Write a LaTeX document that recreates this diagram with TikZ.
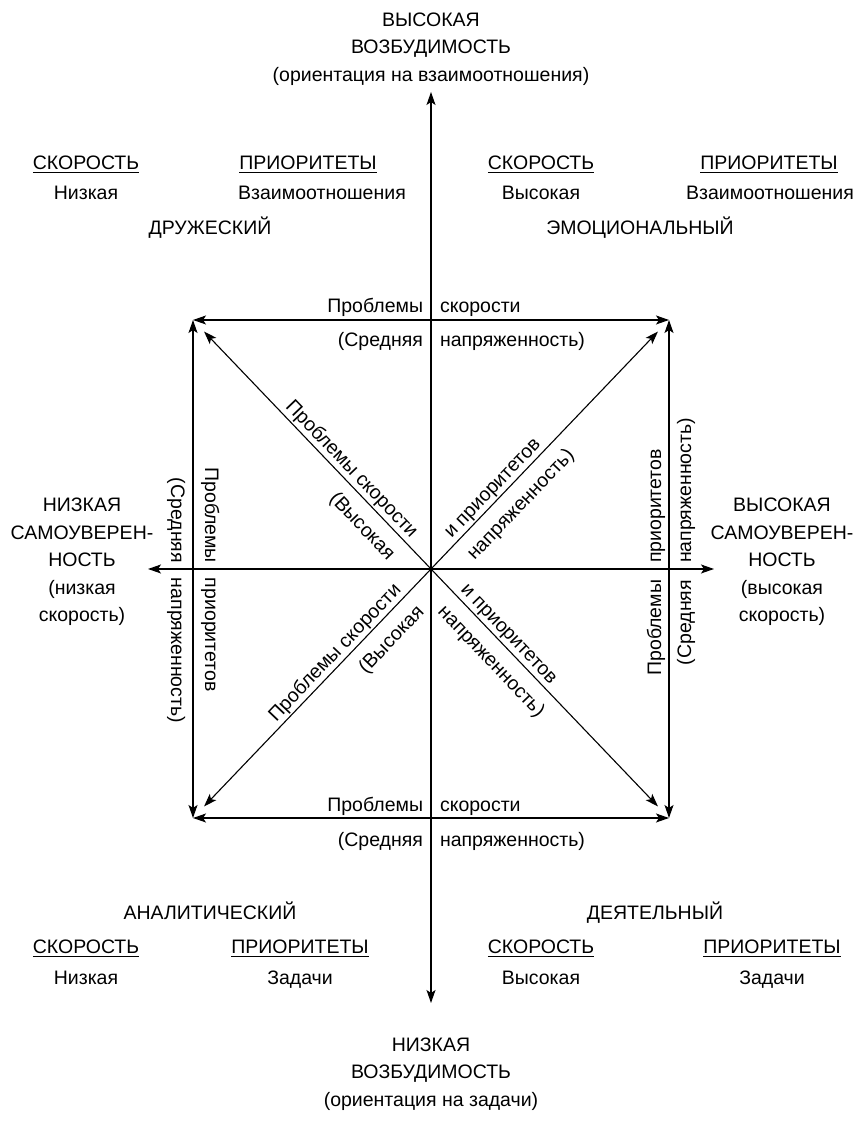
\documentclass[tikz,border=0pt]{standalone}
\usepackage{fontspec}
\setmainfont{Liberation Sans}
\usetikzlibrary{arrows.meta}
\begin{document}
\begin{tikzpicture}[x=1pt,y=1pt,
  every node/.style={font=\fontsize{19.5}{27.5}\selectfont, inner sep=0pt, outer sep=0pt},
  dbl/.style={line width=1.1pt,
    {Stealth[length=13pt,width=9pt,inset=3pt]}-{Stealth[length=13pt,width=9pt,inset=3pt]}},
  diag/.style={dbl, shorten <=16pt, shorten >=16pt},
  pole/.style={align=center, anchor=center},
  cell/.style={anchor=base},
  ul/.style={line width=1pt}
]
\useasboundingbox (0,0) rectangle (862,1121);

% centre, corners of the square and ends of the axes
\coordinate (O) at (431,552);
\coordinate (NW) at (193,801);
\coordinate (NE) at (669,801);
\coordinate (SW) at (193,303);
\coordinate (SE) at (669,303);
\coordinate (T) at (431,1029);
\coordinate (B) at (431,118);
\coordinate (L) at (148,552);
\coordinate (R) at (714,552);

% axes
\draw[dbl] (B) -- (T);
\draw[dbl] (L) -- (R);

% square sides
\draw[dbl] (NW) -- (NE);
\draw[dbl] (NE) -- (SE);
\draw[dbl] (SE) -- (SW);
\draw[dbl] (SW) -- (NW);

% diagonals
\draw[diag] (NW) -- (SE);
\draw[diag] (SW) -- (NE);

% poles of the axes
\node[pole] (top) at (431,1072) {ВЫСОКАЯ\\ВОЗБУДИМОСТЬ\\(ориентация на взаимоотношения)};
\node[pole] (bot) at (431,47) {НИЗКАЯ\\ВОЗБУДИМОСТЬ\\(ориентация на задачи)};
\node[pole] (lft) at (82,559) {НИЗКАЯ\\САМОУВЕРЕН-\\НОСТЬ\\(низкая\\скорость)};
\node[pole] (rgt) at (782,559) {ВЫСОКАЯ\\САМОУВЕРЕН-\\НОСТЬ\\(высокая\\скорость)};

% quadrant: friendly
\node[cell] (h1) at (86,951) {СКОРОСТЬ};
\node[cell] (h2) at (308,951) {ПРИОРИТЕТЫ};
\node[cell] (v1) at (86,921) {Низкая};
\node[cell] (v2) at (322,921) {Взаимоотношения};
\node[cell] (q1) at (210,886) {ДРУЖЕСКИЙ};

% quadrant: emotional
\node[cell] (h3) at (541,951) {СКОРОСТЬ};
\node[cell] (h4) at (769,951) {ПРИОРИТЕТЫ};
\node[cell] (v3) at (541,921) {Высокая};
\node[cell] (v4) at (770,921) {Взаимоотношения};
\node[cell] (q2) at (640,886) {ЭМОЦИОНАЛЬНЫЙ};

% quadrant: analytical
\node[cell] (q3) at (210,201) {АНАЛИТИЧЕСКИЙ};
\node[cell] (h5) at (86,167) {СКОРОСТЬ};
\node[cell] (h6) at (300,167) {ПРИОРИТЕТЫ};
\node[cell] (v5) at (86,136) {Низкая};
\node[cell] (v6) at (300,136) {Задачи};

% quadrant: driving
\node[cell] (q4) at (655,201) {ДЕЯТЕЛЬНЫЙ};
\node[cell] (h7) at (541,167) {СКОРОСТЬ};
\node[cell] (h8) at (772,167) {ПРИОРИТЕТЫ};
\node[cell] (v7) at (541,136) {Высокая};
\node[cell] (v8) at (772,136) {Задачи};

% underlined column heads
\foreach \n in {h1,h2,h3,h4,h5,h6,h7,h8}
  \draw[ul] ([yshift=-3pt]\n.base west) -- ([yshift=-3pt]\n.base east);

% labels of the top and bottom sides
\node[anchor=base east] (ta1) at (423,808) {Проблемы};
\node[anchor=base west] (ta2) at (440,808) {скорости};
\node[anchor=base east] (tb1) at (423,774) {(Средняя};
\node[anchor=base west] (tb2) at (440,774) {напряженность)};
\node[anchor=base east] (ba1) at (423,309) {Проблемы};
\node[anchor=base west] (ba2) at (440,309) {скорости};
\node[anchor=base east] (bb1) at (423,274) {(Средняя};
\node[anchor=base west] (bb2) at (440,274) {напряженность)};

% labels of the left side (read downwards)
\node[rotate=-90, anchor=base east] (la1) at (205,558) {Проблемы};
\node[rotate=-90, anchor=base west] (la2) at (205,543) {приоритетов};
\node[rotate=-90, anchor=base east] (lb1) at (171,558) {(Средняя};
\node[rotate=-90, anchor=base west] (lb2) at (171,543) {напряженность)};

% labels of the right side (read upwards)
\node[rotate=90, anchor=base east] (ra1) at (661,541) {Проблемы};
\node[rotate=90, anchor=base west] (ra2) at (661,558) {приоритетов};
\node[rotate=90, anchor=base east] (rb1) at (691,541) {(Средняя};
\node[rotate=90, anchor=base west] (rb2) at (691,558) {напряженность)};

% labels of the falling diagonal
\begin{scope}[shift={(O)}, rotate=-46.29]
  \node[rotate=-46.29, anchor=base east] (d1a) at (-36,6) {Проблемы скорости};
  \node[rotate=-46.29, anchor=base east] (d1b) at (-36,-26) {(Высокая};
  \node[rotate=-46.29, anchor=base west] (d1c) at (36,6) {и приоритетов};
  \node[rotate=-46.29, anchor=base west] (d1d) at (36,-26) {напряженность)};
\end{scope}

% labels of the rising diagonal
\begin{scope}[shift={(O)}, rotate=46.29]
  \node[rotate=46.29, anchor=base east] (d2a) at (-36,6) {Проблемы скорости};
  \node[rotate=46.29, anchor=base east] (d2b) at (-36,-26) {(Высокая};
  \node[rotate=46.29, anchor=base west] (d2c) at (36,6) {и приоритетов};
  \node[rotate=46.29, anchor=base west] (d2d) at (36,-26) {напряженность)};
\end{scope}
\end{tikzpicture}
\end{document}
